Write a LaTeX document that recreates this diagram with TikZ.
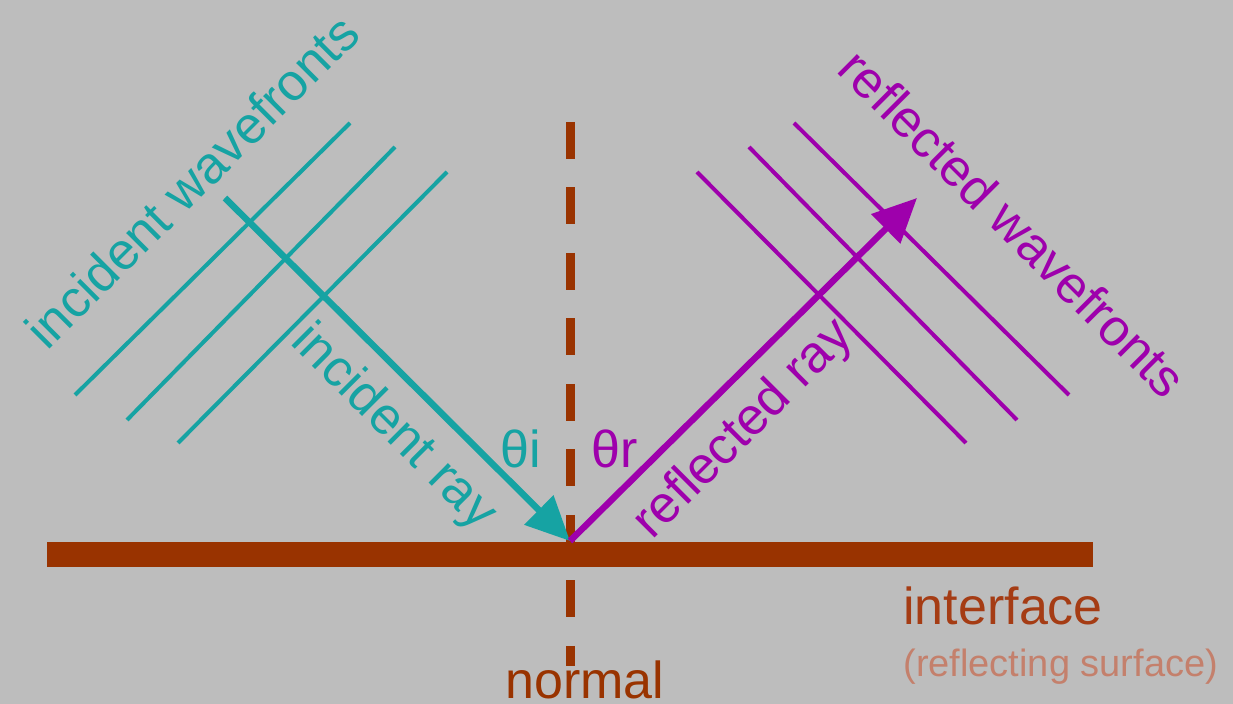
\documentclass[tikz,border=0pt]{standalone}
\usepackage{fontspec}
\setmainfont{Liberation Sans}
\usetikzlibrary{arrows.meta}
\definecolor{bggray}{RGB}{189,189,189}
\definecolor{incteal}{RGB}{22,163,163}
\definecolor{refpurple}{RGB}{158,0,172}
\definecolor{ifbrown}{RGB}{153,51,0}
\definecolor{iftext}{RGB}{165,60,20}
\definecolor{iffaded}{RGB}{196,128,108}

\begin{document}
\begin{tikzpicture}[
  x=0.5pt,y=-0.5pt,
  lbl/.style={font=\fontsize{26}{31}\selectfont,inner sep=0pt},
  small/.style={font=\fontsize{19}{23}\selectfont,inner sep=0pt},
  wave/.style={line width=2pt},
  ray/.style={line width=3.25pt,-{Triangle[length=22pt,width=20pt]}},
  normline/.style={ifbrown,line width=4.5pt,dash pattern=on 18.5pt off 14.25pt}]
\path[use as bounding box,fill=bggray] (0,0) rectangle (1233,704);
% normal and interface
\coordinate (ntop) at (570,122);
\coordinate (nbot) at (570,666);
\draw[normline] (ntop) -- (nbot);
\fill[ifbrown] (47,542) rectangle (1093,567);
% wavefronts
\foreach \a/\b/\c/\d in {75/395/350/123,127/420/395/147,178/443/447/172}
  \draw[wave,incteal] (\a,\b) -- (\c,\d);
\foreach \a/\b/\c/\d in {1069/395/794/123,1017/420/749/147,966/443/697/172}
  \draw[wave,refpurple] (\a,\b) -- (\c,\d);
% rays
\coordinate (isrc) at (225,198);
\coordinate (hit) at (570,541);
\coordinate (rtip) at (917,198);
\draw[ray,incteal] (isrc) -- (hit);
\draw[ray,refpurple] (hit) -- (rtip);
% labels
\node[lbl,incteal,rotate=45] (iwf) at (192,181) {incident wavefronts};
\node[lbl,incteal,rotate=-45] (iray) at (393,428) {incident ray};
\node[lbl,refpurple,rotate=45] (rray) at (744,430) {reflected ray};
\node[lbl,refpurple,rotate=-45] (rwf) at (1013,223) {reflected wavefronts};
\node[lbl,incteal] (thi) at (521,449) {θi};
\node[lbl,refpurple] (thr) at (615,449) {θr};
\node[lbl,ifbrown,anchor=base] (nlbl) at (585,699) {normal};
\node[lbl,iftext,anchor=base west] (iflbl) at (903,625) {interface};
\node[small,iffaded,anchor=base west] (surf) at (903,677) {(reflecting surface)};
\end{tikzpicture}
\end{document}
